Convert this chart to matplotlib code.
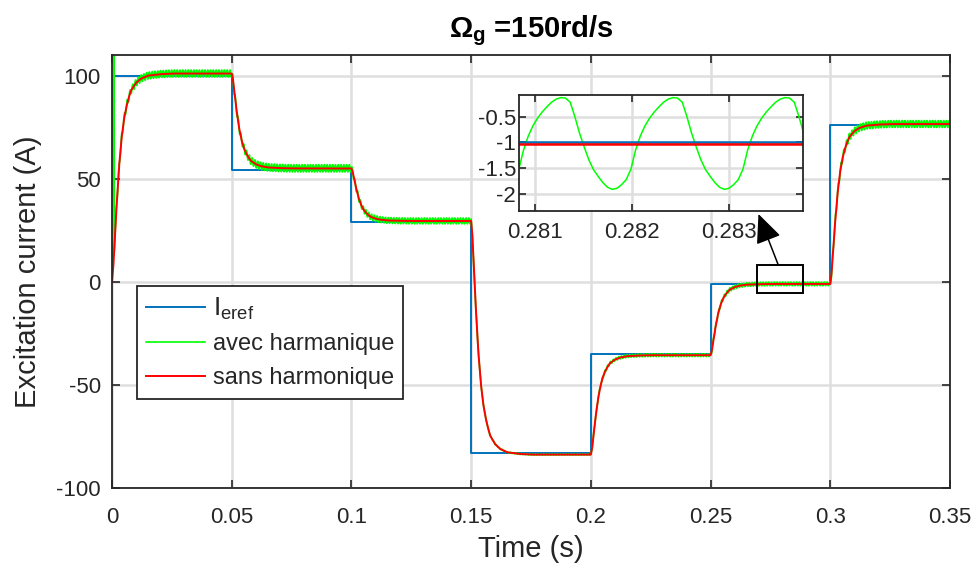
import numpy as np
import matplotlib
matplotlib.use("Agg")
import matplotlib.pyplot as plt
from matplotlib.patches import Rectangle

plt.rcParams['font.family'] = ['Liberation Sans', 'DejaVu Sans']
plt.rcParams['mathtext.fontset'] = 'custom'
plt.rcParams['mathtext.rm'] = 'Liberation Sans'
plt.rcParams['mathtext.it'] = 'Liberation Sans:italic'
plt.rcParams['mathtext.bf'] = 'Liberation Sans:bold'
plt.rcParams['axes.unicode_minus'] = False

### Data
step_times = [0, 0.05, 0.1, 0.15, 0.2, 0.25, 0.3]
t_end = 0.35
ref_levels = [100, 54, 29, -83, -35, -1, 76]               # I_eref
resp_levels = [101, 55, 29.5, -83.8, -35.6, -1.04, 76.5]   # settled current

# step response shape after each change (time since step, fraction done)
prof_dt = [0, 0.0005, 0.001, 0.0015, 0.002, 0.0025, 0.003, 0.004, 0.005,
           0.006, 0.007, 0.008, 0.010, 0.012, 0.015, 0.020, 0.025, 0.05]
prof_frac = [0, 0.06, 0.17, 0.28, 0.38, 0.47, 0.56, 0.69, 0.78,
             0.84, 0.885, 0.92, 0.955, 0.975, 0.99, 0.997, 1.0, 1.0]

# one period of the harmonic ripple as seen in the zoom (starting at a trough)
ripple_period = 0.00116
ripple_trough_t = 0.281795
ripple_wave = [-1.91, -1.89, -1.82, -1.72, -1.52, -1.15, -0.88, -0.68,
               -0.53, -0.41, -0.31, -0.22, -0.16, -0.13, -0.14, -0.22,
               -0.50, -0.82, -1.09, -1.34, -1.53, -1.66, -1.78, -1.87]
ripple_scale = [1.9, 2.0, 1.6, 0.3, 0.75, 1.0, 1.9]  # ripple size per step
green_spike = 118
spike_t = [0.0, 0.0006, 0.0009]

xticks = [0, 0.05, 0.1, 0.15, 0.2, 0.25, 0.3, 0.35]
xtick_labels = ['0', '0.05', '0.1', '0.15', '0.2', '0.25', '0.3', '0.35']
yticks = [-100, -50, 0, 50, 100]
in_xticks = [0.281, 0.282, 0.283]
in_xtick_labels = ['0.281', '0.282', '0.283']
in_yticks = [-2, -1.5, -1, -0.5]
in_ytick_labels = ['-2', '-1.5', '-1', '-0.5']

zoom_box = (0.2693, -5.5, 0.0195, 13.6)

### Build the signals
dt = ripple_period / len(ripple_wave)
n_back = int(ripple_trough_t / dt)
n_fwd = int((t_end - ripple_trough_t) / dt)
t = ripple_trough_t + dt * np.arange(-n_back, n_fwd + 1)
t = np.r_[0.0, t[(t > 0.0005) & (t <= t_end)]]

red = np.zeros_like(t)
prev = 0.0
bounds = step_times + [t_end + 1]
for k in range(len(step_times)):
    m = (t >= bounds[k]) & (t < bounds[k + 1])
    red[m] = prev + (resp_levels[k] - prev) * np.interp(t[m] - bounds[k], prof_dt, prof_frac)
    prev = resp_levels[k]

idx = np.round((t - ripple_trough_t) / dt).astype(int) % len(ripple_wave)
dev = np.array(ripple_wave) - resp_levels[5]
seg = np.searchsorted(step_times, t, side='right') - 1
green = red + dev[idx] * np.array(ripple_scale)[seg]
# initial spike of the measured current right at t=0
keep = t > spike_t[-1]
green_t = np.r_[spike_t, t[keep]]
green_v = np.r_[0.0, green_spike, green_spike, green[keep]]

ref_t = [0] + step_times + [t_end]
ref_v = [0] + ref_levels + [ref_levels[-1]]

BLUE = '#0072BD'
GREEN = '#00FF00'
RED = '#FF0000'
DARK = '#262626'
GRID = '#DEDEDE'

fig = plt.figure(figsize=(9.76, 5.70), dpi=100)
ax = fig.add_axes([112 / 976, 1 - 488 / 570, 838 / 976, 433 / 570])

ax.step(ref_t, ref_v, where='post', color=BLUE, lw=1.4, label=r'$\mathregular{I_{eref}}$')
ax.plot(green_t, green_v, color=GREEN, lw=1.2, label='avec harmanique')
ax.plot(t, red, color=RED, lw=1.4, label='sans harmonique')

ax.set_xlim(0, 0.35)
ax.set_ylim(-100, 110)
ax.set_xticks(xticks)
ax.set_xticklabels(xtick_labels)
ax.set_yticks(yticks)
ax.grid(True, color=GRID, lw=1.8)
ax.set_axisbelow(True)
ax.tick_params(direction='in', length=6, width=1.2, color=DARK, labelcolor=DARK,
               labelsize=16, top=True, right=True, pad=8)
ax.tick_params(axis='x', pad=14)
for s in ax.spines.values():
    s.set_color(DARK)
    s.set_linewidth(1.3)

ax.set_xlabel('Time (s)', fontsize=21, labelpad=5, color=DARK)
ax.set_ylabel('Excitation current (A)', fontsize=21, labelpad=10, color=DARK)
ax.set_title(r'$\mathbf{\Omega_g}$ =150rd/s', fontsize=21, fontweight='bold', pad=13)

leg = ax.legend(loc='upper left', bbox_to_anchor=(0.0298, 0.4665), borderaxespad=0,
                fontsize=17, fancybox=False, edgecolor=DARK, framealpha=1,
                handlelength=2.5, handletextpad=0.3, borderpad=0.4, labelspacing=0.5)
leg.get_frame().set_linewidth(1.3)
leg.get_texts()[0].set_fontsize(19)
for txt in leg.get_texts():
    txt.set_color(DARK)

bx, by, bw, bh = zoom_box
ax.add_patch(Rectangle((bx, by), bw, bh, fill=False, ec='k', lw=1.4, zorder=5))
ax.annotate('', xy=(0.270, 32.9), xytext=(bx + 0.009, by + bh),
            arrowprops=dict(arrowstyle='-|>,head_length=0.9,head_width=0.4',
                            mutation_scale=20, color='k', lw=1.1, shrinkA=0, shrinkB=0))

# zoom inset
axin = fig.add_axes([519 / 976, 1 - 211 / 570, 284 / 976, 116 / 570])
axin.plot(green_t, green_v, color=GREEN, lw=1.1)
axin.step(ref_t, ref_v, where='post', color=BLUE, lw=1.8)
axin.plot(t, red, color=RED, lw=1.8)
axin.set_xlim(0.28083, 0.28377)
axin.set_ylim(-2.33, -0.08)
axin.set_xticks(in_xticks)
axin.set_xticklabels(in_xtick_labels)
axin.set_yticks(in_yticks)
axin.set_yticklabels(in_ytick_labels)
axin.grid(True, color=GRID, lw=1.8)
axin.set_axisbelow(True)
axin.tick_params(direction='in', length=5, width=1.2, color=DARK, labelcolor=DARK,
                 labelsize=16, top=True, right=True)
axin.tick_params(axis='y', pad=2)
axin.tick_params(axis='x', pad=8)
for s in axin.spines.values():
    s.set_color(DARK)
    s.set_linewidth(1.3)

fig.savefig('out.png', dpi=100)
